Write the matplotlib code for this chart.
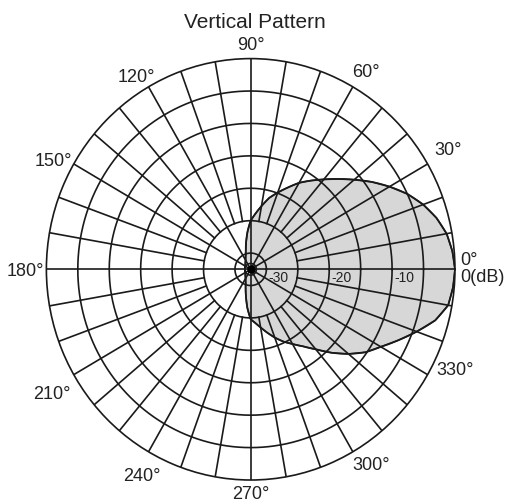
import numpy as np
import matplotlib
matplotlib.use("Agg")
import matplotlib.pyplot as plt
from matplotlib.transforms import offset_copy
from matplotlib.path import Path
from matplotlib.patches import PathPatch

plt.rcParams['font.family'] = ['Liberation Sans', 'DejaVu Sans']

# ---------------- data ----------------
title = "Vertical Pattern"
r_min, r_max = -32.5, 0.0
ring_levels = [-30, -25, -20, -15, -10, -5]
ring_labels = {-30: "-30", -20: "-20", -10: "-10"}
fine_spoke_step = 10      # degrees, drawn from -25 dB outward
coarse_spoke_step = 30    # degrees, drawn from centre

tick_angles = [30, 60, 90, 120, 150, 180, 210, 240, 270, 300, 330]
tick_labels = ["30°", "60°", "90°", "120°", "150°", "180°",
               "210°", "240°", "270°", "300°", "330°"]

# upper half of the lobe (0..180 deg) and lower half (0..-180 deg), dB
upper_deg = [0, 5, 10, 15, 20, 25, 30, 35, 40, 45, 50, 55, 60, 65, 70, 75, 80,
             85, 90, 95, 100, 105, 110, 120, 135, 150, 180]
upper_db = [0, -0.3, -0.85, -1.9, -3.3, -5.0, -7.0, -9.0, -11.0, -12.8, -14.4,
            -15.8, -17.1, -18.6, -19.9, -21.1, -22.6, -23.9, -25.0, -26.7,
            -28.3, -29.5, -30.2, -30.9, -31.3, -31.5, -31.6]
lower_deg = [0, -5, -10, -15, -20, -25, -30, -35, -40, -45, -50, -55, -60, -65,
             -70, -75, -80, -85, -90, -95, -100, -105, -110, -120, -135, -150, -180]
lower_db = [0, -0.2, -0.6, -2.1, -4.4, -6.6, -8.6, -10.2, -12.2, -14.3, -16.4,
            -18.0, -19.2, -20.2, -21.3, -22.4, -23.4, -24.2, -24.8, -26.5,
            -28.2, -29.4, -30.2, -30.9, -31.3, -31.5, -31.6]

# ---------------- layout ----------------
label_pos = {30: (30.6, 1.122), 60: (59.2, 1.101), 90: (90, 1.074),
             120: (121.3, 1.079), 150: (151.8, 1.098), 180: (180, 1.105),
             210: (211, 1.136), 240: (241.3, 1.108), 270: (270, 1.060),
             300: (302.6, 1.092), 330: (334.7, 1.106)}
ink = '#1a1a1a'
txt = '#222222'
fill_col = '#d7d7d7'
lw = 1.2

fig = plt.figure(figsize=(5.08, 5.03), dpi=100)
ax = fig.add_axes([0.0913, 0.0457, 0.8043, 0.8378], projection='polar')
ax.set_aspect('auto')
ax.set_ylim(r_min, r_max)
ax.set_xticks([])
ax.set_yticks([])
ax.grid(False)
ax.spines['polar'].set_color(ink)
ax.spines['polar'].set_linewidth(lw)

# lobe
deg = list(reversed(lower_deg[1:])) + upper_deg
db = list(reversed(lower_db[1:])) + upper_db
th = np.deg2rad(deg)
verts = np.column_stack([th, db])
lobe_path = Path(np.vstack([verts, verts[:1]]), _interpolation_steps=12)
ax.add_patch(PathPatch(lobe_path, facecolor=fill_col, edgecolor=ink, lw=lw,
                       transform=ax.transData, zorder=1))
ax.plot(th, db, color=ink, lw=lw, zorder=3)

# rings
circ = np.linspace(0, 2 * np.pi, 721)
for lv in ring_levels:
    ax.plot(circ, np.full_like(circ, lv), color=ink, lw=lw, zorder=2)

# spokes
for a in range(0, 360, fine_spoke_step):
    start = r_min if a % coarse_spoke_step == 0 else -25
    ax.plot([np.deg2rad(a)] * 2, [start, r_max], color=ink, lw=lw, zorder=2)

ax.plot([0], [r_min], 'o', ms=5, color='black', zorder=4)

# angle labels
lab_tr = offset_copy(ax.transData, fig=fig, x=0, y=-2, units='dots')
for a, lab in zip(tick_angles, tick_labels):
    ang, frac = label_pos[a]
    ax.text(np.deg2rad(ang), r_min + frac * (r_max - r_min), lab,
            ha='center', va='center', fontsize=13, color=txt,
            transform=lab_tr, clip_on=False)

ax.text(1.012, 0.522, "0°", transform=ax.transAxes, ha='left', va='center',
        fontsize=13, color=txt)
ax.text(1.012, 0.4815, "0(dB)", transform=ax.transAxes, ha='left', va='center',
        fontsize=13, color=txt)

# radial labels
rl_tr = offset_copy(ax.transData, fig=fig, x=2, y=-9, units='dots')
for lv, lab in ring_labels.items():
    ax.text(0, lv, lab, ha='left', va='center', fontsize=10, color=txt,
            transform=rl_tr, zorder=5)

fig.text(0.502, 1 - 28 / 503, title, ha='center', va='baseline',
         fontsize=15, color=txt)

fig.savefig("out.png", dpi=100)
